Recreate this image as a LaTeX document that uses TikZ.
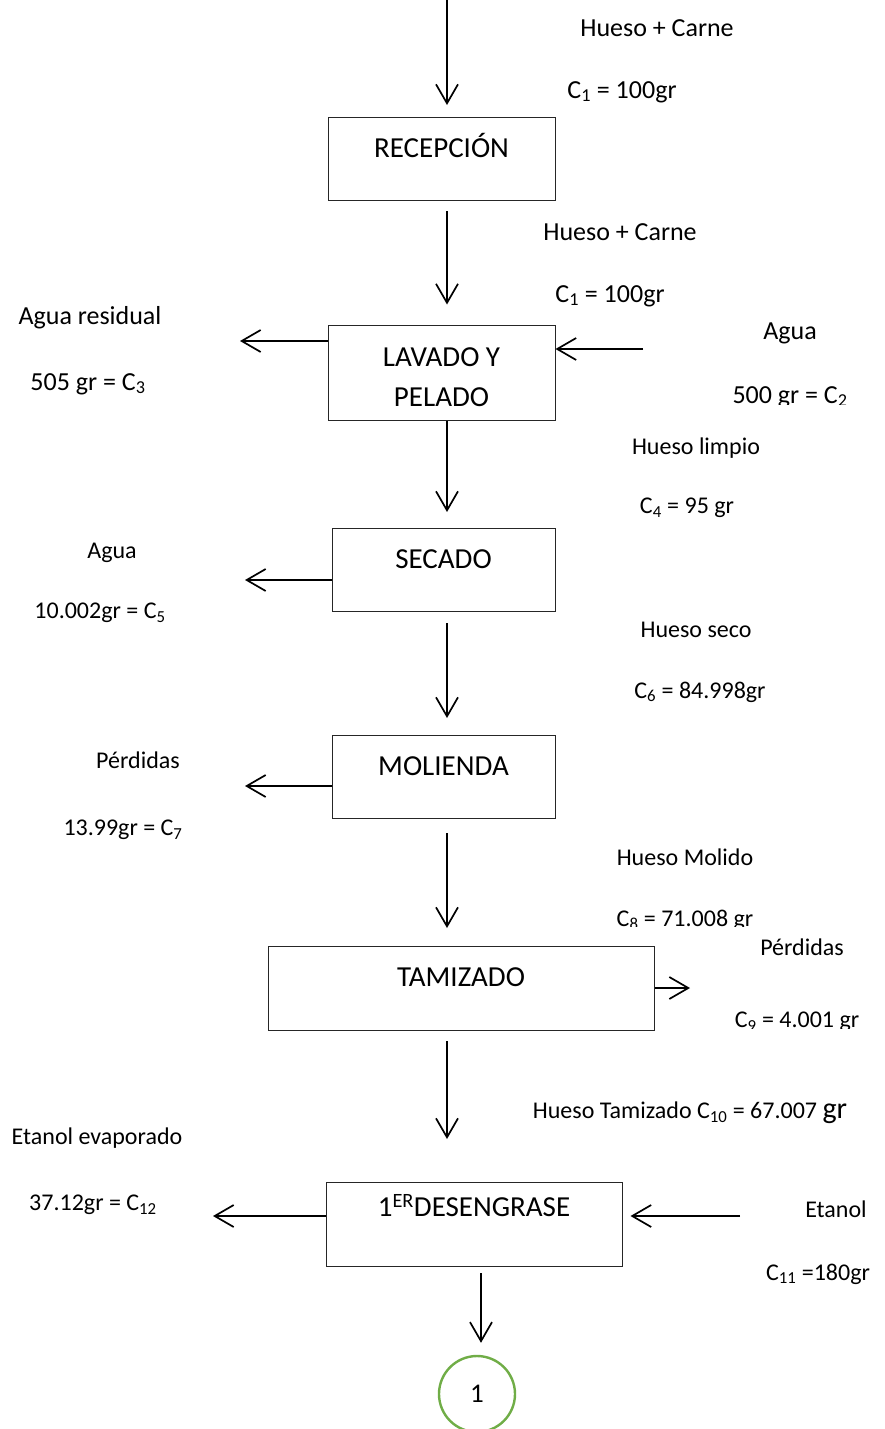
\documentclass[tikz,border=0pt]{standalone}
\usepackage{fontspec}
\setmainfont{Carlito}
\usetikzlibrary{arrows.meta,calc}
\definecolor{endgreen}{RGB}{112,173,71}
\newcommand{\Cn}[1]{C\textsubscript{#1}}

\begin{document}
\begin{tikzpicture}[x=1pt,y=-1pt,
  flow/.style={-{Straight Barb[length=19pt,width=22pt]},line width=1.7pt},
  procbox/.style={draw=black!85,line width=1pt,align=center,inner xsep=0pt,font=\fontsize{29}{40}\selectfont},
  toptext/.style={anchor=north,inner ysep=18pt,text height=22pt,text depth=25pt},
  lbl/.style={font=\fontsize{26}{30}\selectfont,inner sep=0pt},
  lbls/.style={font=\fontsize{24}{28}\selectfont,inner sep=0pt}]
  \useasboundingbox (0,0) rectangle (885,1429);

  % process steps
  \node[procbox,toptext,minimum width=227pt] (rec) at (441.5,117) {RECEPCIÓN};
  \node[procbox,minimum width=227pt,minimum height=95pt] (lav) at (441.5,372.5) {\rule{0pt}{29pt}LAVADO Y\\PELADO};
  \node[procbox,toptext,minimum width=223pt] (sec) at (443.5,528) {SECADO};
  \node[procbox,toptext,minimum width=223pt] (mol) at (443.5,735) {MOLIENDA};
  \node[procbox,toptext,minimum width=386pt,text depth=26pt] (tam) at (461,946) {TAMIZADO};
  \node[procbox,toptext,minimum width=296pt,inner ysep=12pt,text depth=38pt] (des) at (474,1182) {1\textsuperscript{ER}DESENGRASE};
  \node[draw=endgreen,line width=2.4pt,circle,minimum size=76pt,inner sep=0pt,font=\fontsize{27}{30}\selectfont] (end) at (477,1394) {1};

  % main line
  \coordinate (spine) at (447,0);
  \draw[flow,shorten >=12pt] (spine) -- (spine |- rec.north);
  \draw[flow,shorten <=10pt,shorten >=20pt] (spine |- rec.south) -- (spine |- lav.north);
  \draw[flow,shorten >=16pt] (spine |- lav.south) -- (spine |- sec.north);
  \draw[flow,shorten <=11pt,shorten >=17pt] (spine |- sec.south) -- (spine |- mol.north);
  \draw[flow,shorten <=14pt,shorten >=18pt] (spine |- mol.south) -- (spine |- tam.north);
  \draw[flow,shorten <=10pt,shorten >=43pt] (spine |- tam.south) -- (spine |- des.north);
  \draw[flow,shorten <=6pt,shorten >=12pt] ([xshift=4pt]des.south -| end.north) -- ([xshift=4pt]end.north);

  % side streams
  \coordinate (out3) at (240,341);
  \coordinate (in2) at (643,349);
  \coordinate (out5) at (245,580);
  \coordinate (out7) at (245,786);
  \coordinate (out9) at (690,988);
  \coordinate (out12) at (213,1216);
  \coordinate (in11) at (740,1216);
  \draw[flow] (out3 -| lav.west) -- (out3);
  \draw[flow] (in2) -- (in2 -| lav.east);
  \draw[flow] (out5 -| sec.west) -- (out5);
  \draw[flow] (out7 -| mol.west) -- (out7);
  \draw[flow] (out9 -| tam.east) -- (out9);
  \draw[flow] (out12 -| des.west) -- (out12);
  \draw[flow,shorten >=8pt] (in11) -- (in11 -| des.east);

  % stream labels
  \node[lbl] (c1a) at (657,28) {Hueso + Carne};
  \node[lbl] (c1b) at (622,92) {\Cn{1} = 100gr};
  \node[lbl] (c1c) at (620,232) {Hueso + Carne};
  \node[lbl] (c1d) at (610,296) {\Cn{1} = 100gr};
  \node[lbl] (c3a) at (90,318) {Agua residual};
  \node[lbl] (c3b) at (88,384) {505 gr = \Cn{3}};
  \node[lbl] (c2a) at (790,333) {Agua};
  \begin{scope}
    \clip (690,370) rectangle (885,404);
    \node[lbl] (c2b) at (790,397) {500 gr = \Cn{2}};
  \end{scope}
  \node[lbls] (c4a) at (696,448) {Hueso limpio};
  \node[lbls] (c4b) at (687,508) {\Cn{4} = 95 gr};
  \node[lbls] (c5a) at (112,553) {Agua};
  \node[lbls] (c5b) at (100,613) {10.002gr = \Cn{5}};
  \node[lbls] (c6a) at (696,630) {Hueso seco};
  \node[lbls] (c6b) at (700,692) {\Cn{6} = 84.998gr};
  \node[lbls] (c7a) at (138,760) {Pérdidas};
  \node[lbls] (c7b) at (123,830) {13.99gr = \Cn{7}};
  \node[lbls] (c8a) at (685,857) {Hueso Molido};
  \begin{scope}
    \clip (580,900) rectangle (885,926);
    \node[lbls] (c8b) at (685,920) {\Cn{8} = 71.008 gr};
  \end{scope}
  \node[lbls] (c9a) at (802,947) {Pérdidas};
  \begin{scope}
    \clip (700,1000) rectangle (885,1028);
    \node[lbls] (c9b) at (797,1022) {\Cn{9} = 4.001 gr};
  \end{scope}
  \node[lbls] (c10) at (690,1113) {Hueso Tamizado \Cn{10} = 67.007 {\fontsize{30}{32}\selectfont gr}};
  \node[lbls] (c12a) at (97,1138) {Etanol evaporado};
  \node[lbls] (c12b) at (93,1205) {37.12gr = \Cn{12}};
  \node[lbls] (c11a) at (836,1209) {Etanol};
  \node[lbls] (c11b) at (818,1274) {\Cn{11} =180gr};
\end{tikzpicture}
\end{document}
